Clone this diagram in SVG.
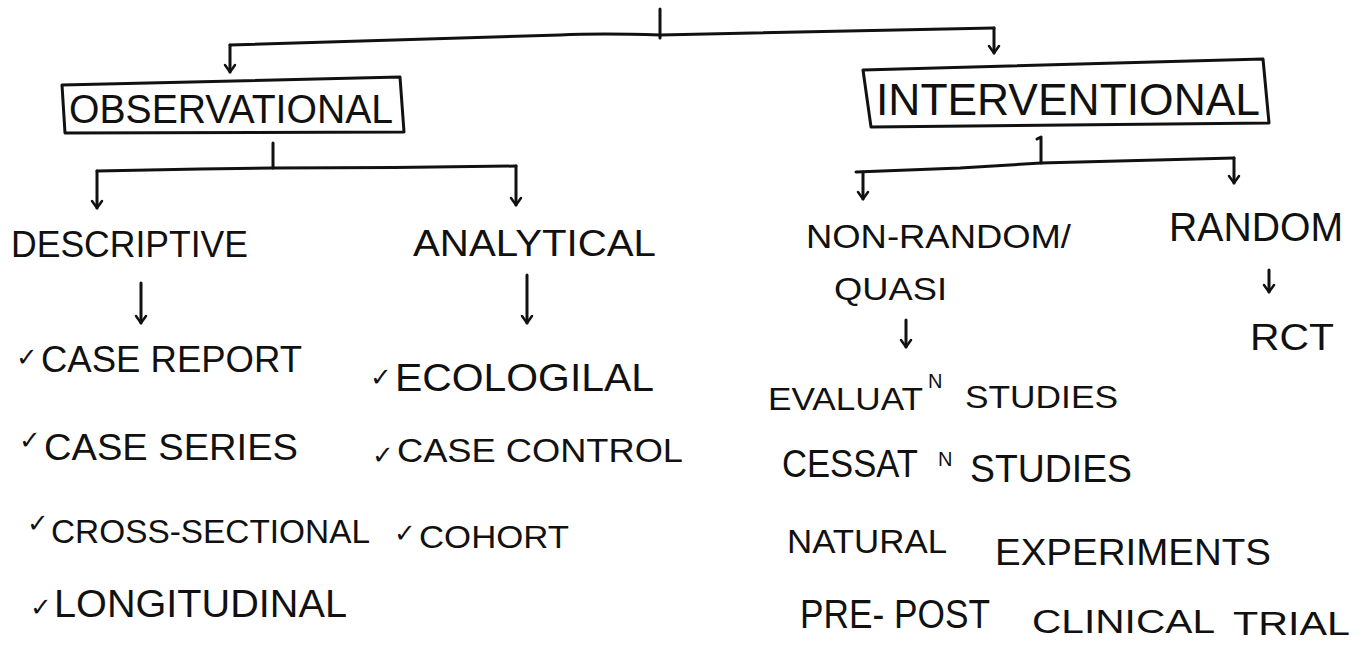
<svg xmlns="http://www.w3.org/2000/svg" width="1361" height="645" viewBox="0 0 1361 645">
<defs>
<style>
.t{font-family:"Liberation Sans","DejaVu Sans",Arial,sans-serif;fill:#111;}
.tk{font-family:"DejaVu Sans",sans-serif;fill:#111;font-size:26px;}
.ln{fill:none;stroke:#111;stroke-width:3;stroke-linecap:round;stroke-linejoin:round;}
.ar{fill:none;stroke:#111;stroke-width:3;stroke-linecap:round;stroke-linejoin:round;marker-end:url(#ah);}
.bx{fill:none;stroke:#111;stroke-width:3;stroke-linejoin:round;}
</style>
<marker id="ah" viewBox="-10 -8 12 16" refX="0" refY="0" markerWidth="12" markerHeight="16" markerUnits="userSpaceOnUse" orient="auto" overflow="visible">
<path d="M-7,-5 L0,0 L-7,5" fill="none" stroke="#111" stroke-width="2.5" stroke-linecap="round" stroke-linejoin="round"/>
</marker>
</defs>
<rect x="0" y="0" width="1361" height="645" fill="#fff"/>

<g id="connectors">
<path class="ln" d="M660,9 L660,38"/>
<path class="ln" d="M230,45 Q400,40 560,35 Q600,33 660,35 L994,28"/>
<path class="ar" d="M230,45 L230,72"/>
<path class="ar" d="M994,28 L994,53"/>
<path class="ln" d="M273,143 L273,168"/>
<path class="ln" d="M97,171 L200,169 L273,168 Q400,168 516,166"/>
<path class="ar" d="M97,171 L97,208"/>
<path class="ar" d="M516,166 L516,205"/>
<path class="ln" d="M1037,139 L1041,137 L1041,163"/>
<path class="ln" d="M856,172 L960,168 L1041,163 L1234,158"/>
<path class="ar" d="M863,172 L863,199"/>
<path class="ar" d="M1234,158 L1234,183"/>
<path class="ar" d="M141,283 L141,323"/>
<path class="ar" d="M527,275 L527,323"/>
<path class="ar" d="M906,320 L906,347"/>
<path class="ar" d="M1269,270 L1269,292"/>
</g>

<g id="observational">
<polygon class="bx" points="62,85 400,77 404,132 65,133"/>
<text class="t" x="69" y="123" font-size="40" textLength="324" lengthAdjust="spacingAndGlyphs">OBSERVATIONAL</text>
</g>

<g id="interventional">
<polygon class="bx" points="863,70 1263,59 1269,123 871,127"/>
<text class="t" x="876" y="115" font-size="44" textLength="384" lengthAdjust="spacingAndGlyphs">INTERVENTIONAL</text>
</g>

<g id="descriptive">
<text class="t" x="11" y="257" font-size="36" textLength="237" lengthAdjust="spacingAndGlyphs">DESCRIPTIVE</text>
</g>

<g id="analytical">
<text class="t" x="413" y="256" font-size="36" textLength="243" lengthAdjust="spacingAndGlyphs">ANALYTICAL</text>
</g>

<g id="non-random">
<text class="t" x="806" y="248" font-size="34" textLength="265" lengthAdjust="spacingAndGlyphs">NON-RANDOM/</text>
<text class="t" x="834" y="300" font-size="32" textLength="113" lengthAdjust="spacingAndGlyphs">QUASI</text>
</g>

<g id="random">
<text class="t" x="1169" y="241" font-size="40" textLength="174" lengthAdjust="spacingAndGlyphs">RANDOM</text>
</g>

<g id="rct">
<text class="t" x="1250" y="350" font-size="36" textLength="84" lengthAdjust="spacingAndGlyphs">RCT</text>
</g>

<g id="descriptive-list">
<text><tspan class="tk" x="16" y="366">✓</tspan><tspan class="t" x="41" y="372" font-size="36" textLength="261" lengthAdjust="spacingAndGlyphs">CASE REPORT</tspan></text>
<text><tspan class="tk" x="19" y="449">✓</tspan><tspan class="t" x="44" y="460" font-size="36" textLength="254" lengthAdjust="spacingAndGlyphs">CASE SERIES</tspan></text>
<text><tspan class="tk" x="27" y="532">✓</tspan><tspan class="t" x="51" y="543" font-size="34" textLength="319" lengthAdjust="spacingAndGlyphs">CROSS-SECTIONAL</tspan></text>
<text><tspan class="tk" x="30" y="616" font-size="28">✓</tspan><tspan class="t" x="54" y="617" font-size="38" textLength="293" lengthAdjust="spacingAndGlyphs">LONGITUDINAL</tspan></text>
</g>

<g id="analytical-list">
<text><tspan class="tk" x="370" y="386">✓</tspan><tspan class="t" x="395" y="391" font-size="38" textLength="259" lengthAdjust="spacingAndGlyphs">ECOLOGILAL</tspan></text>
<text><tspan class="tk" x="372" y="464">✓</tspan><tspan class="t" x="397" y="462" font-size="34" textLength="286" lengthAdjust="spacingAndGlyphs">CASE CONTROL</tspan></text>
<text><tspan class="tk" x="394" y="542">✓</tspan><tspan class="t" x="419" y="548" font-size="32" textLength="150" lengthAdjust="spacingAndGlyphs">COHORT</tspan></text>
</g>

<g id="quasi-list">
<text class="t" font-size="32"><tspan x="768" y="410" textLength="155" lengthAdjust="spacingAndGlyphs">EVALUAT</tspan><tspan x="928" y="388" font-size="20">N</tspan><tspan x="965" y="408" textLength="153" lengthAdjust="spacingAndGlyphs">STUDIES</tspan></text>
<text class="t" font-size="38"><tspan x="782" y="477" textLength="136" lengthAdjust="spacingAndGlyphs">CESSAT</tspan><tspan x="938" y="466" font-size="20">N</tspan><tspan x="970" y="482" textLength="162" lengthAdjust="spacingAndGlyphs">STUDIES</tspan></text>
<text class="t" font-size="34"><tspan x="787" y="553" textLength="160" lengthAdjust="spacingAndGlyphs">NATURAL</tspan><tspan x="995" y="565" font-size="36" textLength="276" lengthAdjust="spacingAndGlyphs">EXPERIMENTS</tspan></text>
<text class="t" font-size="40"><tspan x="800" y="628" textLength="190" lengthAdjust="spacingAndGlyphs">PRE- POST</tspan><tspan x="1032" y="633" font-size="33" textLength="183" lengthAdjust="spacingAndGlyphs">CLINICAL</tspan><tspan x="1233" y="635" font-size="33" textLength="117" lengthAdjust="spacingAndGlyphs">TRIAL</tspan></text>
</g>
</svg>
